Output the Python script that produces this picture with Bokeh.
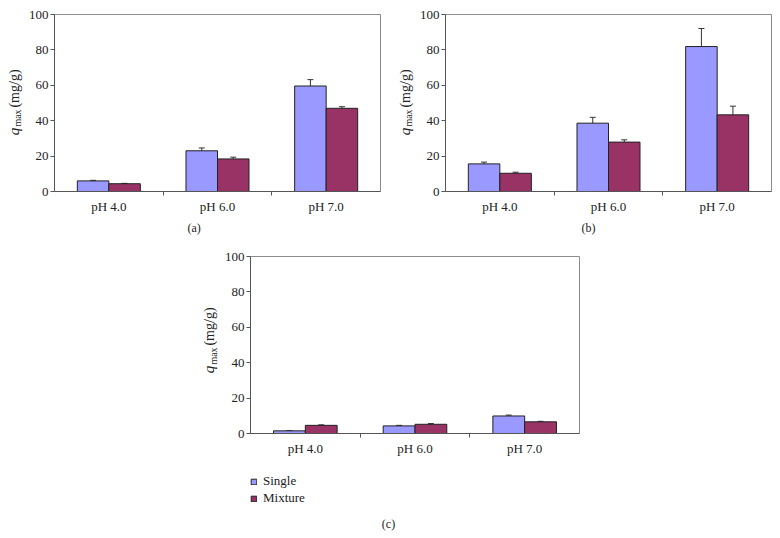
import numpy as np
from bokeh.plotting import figure
from bokeh.layouts import column, row
from bokeh.models import (Range1d, FixedTicker, ColumnDataSource, Whisker, TeeHead,
                          Legend, LegendItem, Spacer, Title, LinearAxis)
from bokeh.core.properties import value
from bokeh.embed import file_html
from bokeh.resources import INLINE

# ---------------- data ----------------
categories = ["pH 4.0", "pH 6.0", "pH 7.0"]
series_names = ["Single", "Mixture"]
y_ticks = [0, 20, 40, 60, 80, 100]

a_single = [6.0, 23.0, 59.6]
a_single_err = [0.3, 1.6, 3.6]
a_mixture = [4.4, 18.4, 47.0]
a_mixture_err = [0.2, 1.0, 0.9]

b_single = [15.6, 38.6, 81.9]
b_single_err = [1.0, 3.3, 10.2]
b_mixture = [10.3, 27.9, 43.3]
b_mixture_err = [0.6, 1.3, 4.9]

c_single = [1.5, 4.3, 9.9]
c_single_err = [0.2, 0.3, 0.5]
c_mixture = [4.6, 5.2, 6.6]
c_mixture_err = [0.3, 0.4, 0.3]

panel_captions = ["(a)", "(b)", "(c)"]
y_label_parts = ["q", "max", "(mg/g)"]

# ---------------- style ----------------
FONT = "Liberation Serif"
SINGLE_COLOR = "#9999FF"
MIXTURE_COLOR = "#993366"
TEXT_COLOR = "#222222"
AXIS_COLOR = "#555555"
BAR_LINE = "#222222"
BAR_W = 0.29


def blank_fig(width, height):
    f = figure(width=width, height=height, output_backend="svg", toolbar_location=None,
               x_range=Range1d(0, width), y_range=Range1d(0, height),
               x_axis_type=None, y_axis_type=None,
               min_border_left=0, min_border_right=0, min_border_top=0, min_border_bottom=0)
    f.frame_width = width
    f.frame_height = height
    f.outline_line_color = None
    f.xgrid.visible = False
    f.ygrid.visible = False
    return f


def make_panel(single, single_err, mixture, mixture_err, caption,
               bl, br, bt, fw, fh, bb, cap_offset=0, cap_standoff=4):
    n = len(categories)
    centers = np.arange(n) + 0.5
    p = figure(width=bl + fw + br, height=bt + fh + bb, output_backend="svg",
               toolbar_location=None,
               x_range=Range1d(0, n), y_range=Range1d(0, 100),
               x_axis_type=None, y_axis_type=None,
               min_border_left=bl, min_border_right=br, min_border_top=bt,
               min_border_bottom=bb)
    p.frame_width = fw
    p.frame_height = fh
    p.background_fill_color = "white"
    p.border_fill_color = "white"
    p.outline_line_color = "#8c8c8c"
    p.xgrid.visible = False
    p.ygrid.visible = False

    xaxis = LinearAxis(ticker=FixedTicker(ticks=list(centers), minor_ticks=list(range(1, n))),
                       major_label_overrides={float(c): cat for c, cat in zip(centers, categories)})
    xaxis.major_tick_out = 0
    xaxis.major_tick_in = 0
    xaxis.minor_tick_out = 4
    xaxis.minor_tick_in = 0
    xaxis.minor_tick_line_color = AXIS_COLOR
    xaxis.axis_line_color = AXIS_COLOR
    xaxis.major_label_text_font = FONT
    xaxis.major_label_text_font_size = "13px"
    xaxis.major_label_text_color = TEXT_COLOR
    xaxis.major_label_standoff = 3
    p.add_layout(xaxis, "below")

    yaxis = LinearAxis(ticker=FixedTicker(ticks=y_ticks, minor_ticks=[]))
    yaxis.major_tick_out = 4
    yaxis.major_tick_in = 0
    yaxis.major_tick_line_color = AXIS_COLOR
    yaxis.axis_line_color = AXIS_COLOR
    yaxis.major_label_text_font = FONT
    yaxis.major_label_text_font_size = "13px"
    yaxis.major_label_text_color = TEXT_COLOR
    yaxis.major_label_standoff = 2
    p.add_layout(yaxis, "left")

    src = ColumnDataSource(dict(
        xs=centers - BAR_W / 2, xm=centers + BAR_W / 2,
        single=single, mixture=mixture,
        s_lo=np.array(single) - np.array(single_err), s_hi=np.array(single) + np.array(single_err),
        m_lo=np.array(mixture) - np.array(mixture_err), m_hi=np.array(mixture) + np.array(mixture_err),
    ))
    p.vbar(x="xs", top="single", width=BAR_W, source=src, fill_color=SINGLE_COLOR,
           line_color=BAR_LINE, line_width=1)
    p.vbar(x="xm", top="mixture", width=BAR_W, source=src, fill_color=MIXTURE_COLOR,
           line_color=BAR_LINE, line_width=1)
    for base, lo, hi in (("xs", "s_lo", "s_hi"), ("xm", "m_lo", "m_hi")):
        w = Whisker(base=base, lower=lo, upper=hi, source=src, line_color="#333333", line_width=1,
                    upper_head=TeeHead(size=6, line_color="#333333", line_width=1),
                    lower_head=TeeHead(size=6, line_color="#333333", line_width=1))
        p.add_layout(w)

    if caption is not None:
        cap = Title(text=caption, align="left", offset=cap_offset, standoff=cap_standoff,
                    text_font=FONT, text_font_size="12px", text_color=TEXT_COLOR,
                    text_font_style="normal")
        p.add_layout(cap, "below")
    return p


def make_ylabel(width, height, base_x, q_bottom):
    """Narrow figure holding the rotated y-axis title: italic q, subscript max, (mg/g).
    Each part is anchored at its own centre (pixel geometry measured from the top)."""
    f = blank_fig(width, height)
    parts = [
        # text, size(px), style, cross offset from baseline, centre distance above q_bottom
        (y_label_parts[0], 15, "italic", -5.0, 4.0),
        (y_label_parts[1], 10, "normal", -1.0, 17.5),
        (y_label_parts[2], 14, "normal", -4.8, 47.0),
    ]
    for txt, size, style, dx, dy in parts:
        f.text(x=[base_x + dx], y=[height - (q_bottom - dy)], text=[txt], angle=np.pi / 2,
               text_font=value(FONT), text_font_style=style, text_font_size=f"{size}px",
               text_color=TEXT_COLOR, text_align="center", text_baseline="middle")
    return f


# ---------------- layout geometry (pixels) ----------------
LBL_W = 25
BL = 28
ROW1_H = 240
PC_H = 16 + 177 + 25
LEG_H = 78

pa = make_panel(a_single, a_single_err, a_mixture, a_mixture_err, panel_captions[0],
                bl=BL, br=11, bt=14, fw=326, fh=177, bb=49, cap_offset=133)
pb = make_panel(b_single, b_single_err, b_mixture, b_mixture_err, panel_captions[1],
                bl=BL, br=11, bt=14, fw=326, fh=177, bb=49, cap_offset=136)
pc = make_panel(c_single, c_single_err, c_mixture, c_mixture_err, None,
                bl=BL, br=10, bt=16, fw=329, fh=177, bb=25)

la = make_ylabel(LBL_W, ROW1_H, 18.3, 121)
lb = make_ylabel(LBL_W, ROW1_H, 18.3, 121)
lc = make_ylabel(LBL_W, PC_H, 17.5, 117)

# legend + caption area under panel (c)
pc_w = BL + 329 + 10
leg_fig = blank_fig(pc_w, LEG_H)
r_single = leg_fig.vbar(x=[np.nan], top=[np.nan], width=1, fill_color=SINGLE_COLOR,
                        line_color=BAR_LINE)
r_mixture = leg_fig.vbar(x=[np.nan], top=[np.nan], width=1, fill_color=MIXTURE_COLOR,
                         line_color=BAR_LINE)
legend = Legend(items=[LegendItem(label=series_names[0], renderers=[r_single]),
                       LegendItem(label=series_names[1], renderers=[r_mixture])],
                location=(BL + 1, 30), orientation="vertical",
                glyph_width=7, glyph_height=7, label_standoff=6, label_height=14,
                spacing=1, padding=0, margin=0,
                label_text_font=FONT, label_text_font_size="13px",
                label_text_color=TEXT_COLOR,
                border_line_color=None, background_fill_alpha=0)
leg_fig.add_layout(legend, "center")
SPACER_W = 249 - BL - LBL_W
leg_fig.text(x=[388 - SPACER_W - LBL_W], y=[13], text=[panel_captions[2]],
             text_font=value(FONT), text_font_size="12px", text_color=TEXT_COLOR,
             text_align="center", text_baseline="middle")

layout = column(
    row(la, pa, lb, pb, spacing=0),
    row(Spacer(width=SPACER_W, height=PC_H), lc, pc, spacing=0),
    row(Spacer(width=SPACER_W + LBL_W, height=LEG_H), leg_fig, spacing=0),
    spacing=0,
)

open("out.html", "w").write(file_html(layout, INLINE))
